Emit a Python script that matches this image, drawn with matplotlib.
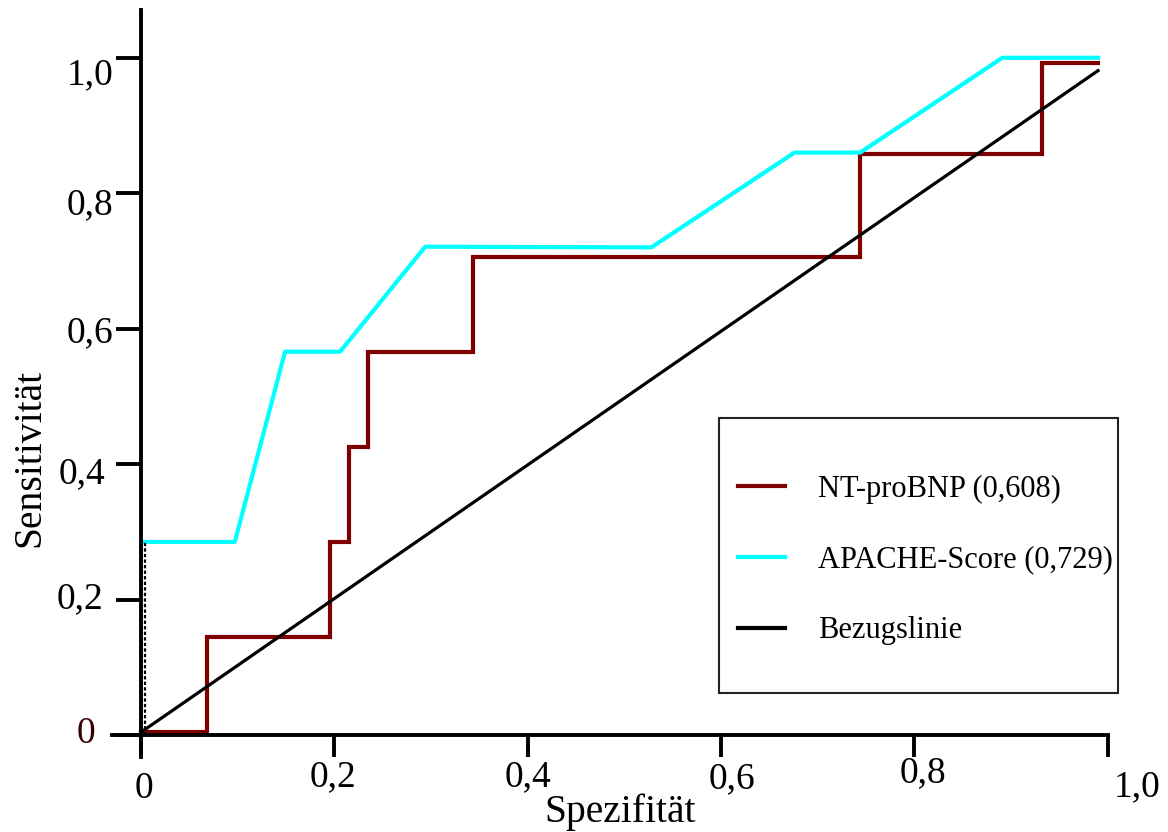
import numpy as np
import matplotlib
matplotlib.use('Agg')
import matplotlib.pyplot as plt
from matplotlib.transforms import ScaledTranslation
from matplotlib.patches import Rectangle

plt.rcParams['font.family'] = ['Liberation Serif', 'DejaVu Serif']

# ROC-Kurven
nt_x = [0, 0.068, 0.195, 0.215, 0.235, 0.343, 0.744, 0.932, 0.990]
nt_y = [0.005, 0.145, 0.285, 0.425, 0.566, 0.706, 0.858, 0.993, 0.993]

apache_x = [0, 0.097, 0.149, 0.206, 0.294, 0.528, 0.676, 0.744, 0.891, 0.990]
apache_y = [0.285, 0.285, 0.566, 0.566, 0.721, 0.720, 0.860, 0.860, 1.0, 1.0]

ref_x = [0, 0.990]
ref_y = [0.004, 0.981]

xticks = [0, 0.2, 0.4, 0.6, 0.8, 1.0]
xticklabels = ['0', '0,2', '0,4', '0,6', '0,8', '1,0']
yticks = [0, 0.2, 0.4, 0.6, 0.8, 1.0]
yticklabels = ['0', '0,2', '0,4', '0,6', '0,8', '1,0']

labels = ['NT-proBNP (0,608)', 'APACHE-Score (0,729)', 'Bezugslinie']

fig = plt.figure(figsize=(11.68, 8.32), dpi=100)
ax = fig.add_axes([0.0959, 0.0841, 0.869, 0.9075])
ax.set_xlim(-0.03, 1.02)
ax.set_ylim(-0.04, 1.075)

l1, = ax.plot(nt_x, nt_y, color='#800000', lw=3, drawstyle='steps-post', solid_joinstyle='miter')
l2, = ax.plot(apache_x, apache_y, color='#00FFFF', lw=3)
l3, = ax.plot(ref_x, ref_y, color='black', lw=2.3)
# senkrechter Anfangsabschnitt der APACHE-Kurve (gepunktet)
ax.plot([0.004, 0.004], [0, apache_y[0]], color='black', lw=1.6, ls=(0, (1.5, 1)))

for s in ['top', 'right']:
    ax.spines[s].set_visible(False)
ax.spines['left'].set_position(('data', 0))
ax.spines['bottom'].set_position(('data', 0))
ax.spines['left'].set_bounds(-0.032, 1.07)
ax.spines['bottom'].set_bounds(-0.03, 1.0)
ax.spines['left'].set_linewidth(2.8)
ax.spines['bottom'].set_linewidth(2.8)

ax.set_xticks(xticks)
ax.set_xticklabels(xticklabels)
ax.set_yticks(yticks)
ax.set_yticklabels(yticklabels)
ax.tick_params(axis='x', direction='out', length=16, width=2.8, pad=2, labelsize=27)
ax.tick_params(axis='y', direction='out', length=18, width=2.8, pad=2, labelsize=27)

# individuelle Verschiebung der Beschriftungen (Pixel)
x_off = [(3, -12), (-1, 0), (0, 0), (11, -2), (9, 4), (29, -10)]
y_off = [(-18, 5), (-10, 5), (-8, -6), (0, 0), (0, -8), (0, -13)]
for lab, (dx, dy) in zip(ax.get_xticklabels(), x_off):
    lab.set_transform(lab.get_transform() + ScaledTranslation(dx / 100, dy / 100, fig.dpi_scale_trans))
for lab, (dx, dy) in zip(ax.get_yticklabels(), y_off):
    lab.set_transform(lab.get_transform() + ScaledTranslation(dx / 100, dy / 100, fig.dpi_scale_trans))
ax.get_yticklabels()[0].set_color('#3a0000')

ax.set_xlabel('Spezifität', fontsize=28.5, va='center')
ax.xaxis.set_label_coords(0.5005, -0.0662)
ax.set_ylabel('Sensitivität', fontsize=28.5, va='center')
ax.yaxis.set_label_coords(-0.0808, 0.4026)

leg = fig.legend([l1, l2, l3], labels, loc='center', bbox_to_anchor=(925 / 1168, 1 - 560 / 832),
                 frameon=False, fontsize=22, handlelength=1.54, handletextpad=1.08,
                 labelspacing=1.37, borderpad=0)
for h in leg.legend_handles:
    h.set_linewidth(3)
fig.add_artist(Rectangle((719 / 1168, 1 - 693 / 832), 399 / 1168, 275 / 832,
                         transform=fig.transFigure, fill=False, ec='#222222', lw=1.5))

plt.savefig('out.png', dpi=100)
